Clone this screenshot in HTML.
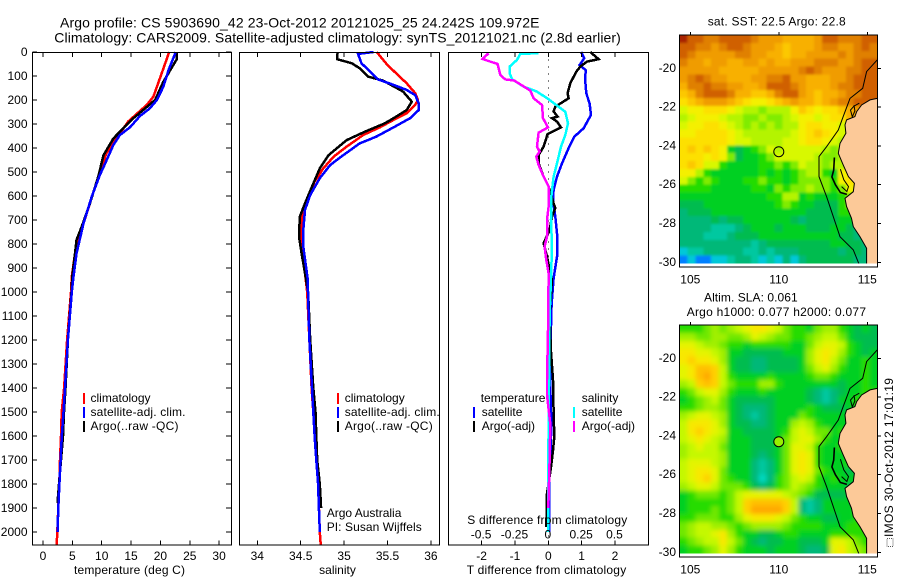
<!DOCTYPE html>
<html>
<head>
<meta charset="utf-8">
<title>Argo profile</title>
<style>
html,body{margin:0;padding:0;background:#fff;}
svg{display:block;font-family:"Liberation Sans",sans-serif;font-size:12px;fill:#000;}
.frame{fill:none;stroke:#000;stroke-width:1.4;shape-rendering:crispEdges;}
.tick{stroke:#000;stroke-width:1;shape-rendering:crispEdges;}
.prof{fill:none;stroke-width:2.5;shape-rendering:crispEdges;stroke-linejoin:miter;}
.sw{shape-rendering:crispEdges;}
</style>
</head>
<body>
<svg id="fig" xmlns="http://www.w3.org/2000/svg" width="900" height="580" viewBox="0 0 900 580">
  <defs>
    <clipPath id="clip-map1"><rect x="679.5" y="35" width="198" height="228.5"/></clipPath>
    <clipPath id="clip-map2"><rect x="679.5" y="325" width="198" height="228.5"/></clipPath>
    <filter id="smooth-sst" filterUnits="userSpaceOnUse" x="650" y="0" width="250" height="580"><feGaussianBlur stdDeviation="1.3"/></filter>
    <filter id="smooth-sla" filterUnits="userSpaceOnUse" x="650" y="0" width="250" height="580"><feGaussianBlur stdDeviation="2.3"/></filter>
  </defs>
  <text x="60" y="27.5" font-size="14" textLength="479.5" lengthAdjust="spacing">Argo profile: CS 5903690_42 23-Oct-2012 20121025_25 24.242S 109.972E</text>
  <text x="54.3" y="42.5" font-size="14" textLength="566.5" lengthAdjust="spacing">Climatology: CARS2009. Satellite-adjusted climatology: synTS_20121021.nc (2.8d earlier)</text>

  <g id="panelT"></g>
  <g id="panelS"></g>
  <g id="panelD"></g>
  <g id="map1"></g>
  <g id="map2"></g>

  <rect class="frame" x="32.5" y="52.5" width="199" height="492.5"/>
  <rect class="frame" x="239.5" y="52.5" width="200" height="492.5"/>
  <rect class="frame" x="448.5" y="52.5" width="200" height="492.5"/>

  <text x="74" y="574" textLength="111" lengthAdjust="spacing">temperature (deg C)</text>
  <text x="337.5" y="574" text-anchor="middle">salinity</text>
  <text x="466.7" y="574" textLength="159.5" lengthAdjust="spacing">T difference from climatology</text>
  <text x="467.3" y="524" textLength="160" lengthAdjust="spacing">S difference from climatology</text>

  <g>
    <rect class="sw" x="83" y="393" width="2" height="11" fill="#f00"/>
    <text x="90.5" y="402">climatology</text>
    <rect class="sw" x="83" y="407" width="2" height="11" fill="#00f"/>
    <text x="90.5" y="416" textLength="95" lengthAdjust="spacing">satellite-adj. clim.</text>
    <rect class="sw" x="83" y="421" width="2" height="11" fill="#000"/>
    <text x="90.5" y="430" textLength="88" lengthAdjust="spacing">Argo(..raw -QC)</text>
  </g>
  <g>
    <rect class="sw" x="337" y="393" width="2" height="11" fill="#f00"/>
    <text x="344.7" y="402">climatology</text>
    <rect class="sw" x="337" y="407" width="2" height="11" fill="#00f"/>
    <text x="344.7" y="416" textLength="95" lengthAdjust="spacing">satellite-adj. clim.</text>
    <rect class="sw" x="337" y="421" width="2" height="11" fill="#000"/>
    <text x="344.7" y="430" textLength="88" lengthAdjust="spacing">Argo(..raw -QC)</text>
    <text x="326.7" y="517">Argo Australia</text>
    <text x="326.7" y="531" textLength="95" lengthAdjust="spacing">PI: Susan Wijffels</text>
  </g>
  <g>
    <text x="480.7" y="402">temperature</text>
    <rect class="sw" x="473" y="407" width="2" height="11" fill="#00f"/>
    <text x="481.7" y="416">satellite</text>
    <rect class="sw" x="473" y="421" width="2" height="11" fill="#000"/>
    <text x="481.7" y="430">Argo(-adj)</text>
    <text x="581.7" y="402">salinity</text>
    <rect class="sw" x="573" y="407" width="2" height="11" fill="#0ff"/>
    <text x="581.7" y="416">satellite</text>
    <rect class="sw" x="573" y="421" width="2" height="11" fill="#f0f"/>
    <text x="581.7" y="430">Argo(-adj)</text>
  </g>

  <text x="707.7" y="25.5" textLength="138" lengthAdjust="spacing">sat. SST: 22.5 Argo: 22.8</text>
  <text x="704" y="301.5" textLength="93.7" lengthAdjust="spacing">Altim. SLA: 0.061</text>
  <text x="686.7" y="316" textLength="179.3" lengthAdjust="spacing">Argo h1000: 0.077 h2000: 0.077</text>
  <rect x="887" y="538.5" width="6" height="8" fill="none" stroke="#555" stroke-width="1" stroke-dasharray="1 1" shape-rendering="crispEdges"/>
  <text transform="translate(893,537) rotate(-90)" textLength="159" lengthAdjust="spacing">IMOS 30-Oct-2012 17:01:19</text>
</svg>
<script>
// ---------- temperature panel data ----------
const tTicks = [0,5,10,15,20,25,30];
const depthTicks = [0,100,200,300,400,500,600,700,800,900,1000,1100,1200,1300,1400,1500,1600,1700,1800,1900,2000];
const climTDepth = [0,90,186,220,290,340,422,520,630,714,840,936,1000,1200,1400,1500,1600,1700,1800,1900,2000,2052];
const climTVal = [21.5,20.2,18.8,17.7,14.5,13.1,10.8,9.4,8,6.9,5.45,4.9,4.77,4.1,3.6,3.18,3.07,2.9,2.78,2.6,2.44,2.33];
const satTDepth = [0,75,145,200,235,267,314,346,387,464,512,603,714,840,936,1000,1200,1400,1500,1600,1700,1800,1900,2000];
const satTVal = [22.6,21.4,20.5,19.4,18.2,16.5,14.8,13.1,12,10.6,9.7,8.3,6.9,5.7,5.2,4.9,4.25,3.75,3.5,3.2,3.0,2.8,2.6,2.47];
const argoTDepth = [0,30,124,200,235,276,318,360,430,520,630,728,783,840,936,1000,1200,1400,1500,1600,1700,1800,1880];
const argoTVal = [22.8,22.8,20.5,19.1,17.4,15.4,13.7,12,10.3,9.4,8,6.6,5.7,5.45,5,4.85,4.25,3.83,3.58,3.4,3.07,2.73,2.47];
// ---------- salinity panel data ----------
const sTicks = [34,34.5,35,35.5,36];
const climSDepth = [0,50,89,130,172,200,220,255,283,314,346,394,436,485,540,596,658,742,811,922,1000,1200,1400,1600,1800,2000,2052];
const climSVal = [35.376,35.49,35.6,35.72,35.82,35.85,35.82,35.72,35.57,35.41,35.22,35.03,34.88,34.76,34.66,34.59,34.53,34.5,34.51,34.55,34.575,34.6,34.625,34.665,34.7,34.72,34.73];
const satSDepth = [0,8,47,82,114,137,158,180,214,242,276,308,353,381,430,471,526,596,658,742,811,943,1000,1200,1400,1500,1600,1700,1800,1900,2000];
const satSVal = [35.34,35.16,35.2,35.3,35.39,35.57,35.72,35.82,35.86,35.86,35.76,35.6,35.37,35.18,34.99,34.84,34.72,34.61,34.55,34.53,34.53,34.58,34.584,34.6,34.63,34.645,34.66,34.68,34.7,34.71,34.72];
const argoSDepth = [0,30,47,68,103,119,165,207,242,269,297,332,367,430,485,561,631,686,769,839,922,1000,1200,1400,1500,1600,1700,1800,1900];
const argoSVal = [34.925,34.92,35.09,35.18,35.28,35.45,35.68,35.78,35.72,35.6,35.47,35.24,35.03,34.82,34.72,34.63,34.55,34.49,34.48,34.51,34.55,34.585,34.61,34.645,34.67,34.68,34.69,34.72,34.735];
// ---------- difference panel data ----------
const tDiffTicks = [-2,-1,0,1,2];
const tDiffLabels = ["-2","-1","0","1","2"];
const sDiffTicks = [-0.5,-0.25,0,0.25,0.5];
const sDiffLabels = ["-0.5","-0.25","0","0.25","0.5"];
const satTDiffDepth = [0,26,54,75,124,172,214,262,318,353,401,464,519,575,617,686,756,853,943,1050,1200,1400,1500,1600,1700,1800,2000];
const satTDiffVal = [0.98,1.08,0.94,1.12,1.11,1.14,1.24,1.28,1.06,0.78,0.61,0.41,0.26,0.16,0.14,0.21,0.26,0.26,0.16,0.1,0.07,0.06,0.08,0.08,0.06,0.02,0.02];
const argoTDiffDepth = [0,30,40,61,82,130,172,193,228,248,269,276,290,314,342,394,429,464,519,561,631,651,686,742,797,853,922,943,1100,1250,1367,1500,1603,1660,1730,1840,1980];
const argoTDiffVal = [1.26,1.51,1.16,0.96,0.84,0.66,0.58,0.61,0.21,0.16,0.28,0.11,0.26,0.38,-0.02,-0.14,-0.29,-0.29,-0.14,0.01,0.16,0.21,0.11,0.04,-0.14,-0.04,0.06,0.11,0.04,0.08,0.14,0.16,0.18,0.14,0.08,-0.04,-0.06];
const satSDiffDepth = [5,8,33,61,89,114,144,165,197,249,297,346,394,464,519,603,700,811,943,1100,1400,1700,2000];
const satSDiffVal = [-0.0725,-0.21,-0.235,-0.29,-0.29,-0.27,-0.185,-0.085,0.0025,0.1275,0.1475,0.1275,0.095,0.065,0.04,0.0225,0.02,0.0275,0.02,0.01,0.005,0,-0.0025];
const argoSDiffDepth = [5,29,40,50,96,114,119,161,193,221,276,314,336,394,415,436,471,519,561,644,700,769,811,867,922,1100,1367,1430,1550,1700,1900];
const argoSDiffVal = [-0.4475,-0.4925,-0.435,-0.38,-0.36,-0.3225,-0.255,-0.135,-0.11,-0.0475,-0.04,-0.0025,-0.0725,-0.085,-0.065,-0.09,-0.0725,-0.035,0.0025,0.0025,-0.01,-0.01,-0.0275,-0.015,0.0025,0,-0.01,-0.01,0.015,0.01,0];
// ---------- map data ----------
const lonTicks = [105,110,115];
const latTicks = [-20,-22,-24,-26,-28,-30];
const colourCodes = "ABCDEFGHIJKLMNOPQR";
const sstColours = ["#0080ff","#00c8d8","#00c8a0","#00b878","#00bc50","#00d020","#20dc00","#80ec00","#b4f400","#d8f800","#f4f000","#fde000","#fcc800","#f8b000","#f09c00","#e08000","#d06000","#a82000"];
const slaColours = ["#0080ff","#00d8c0","#00c8a0","#00b878","#00bc50","#00d020","#28dc00","#70e800","#a0f000","#c4f800","#e4f400","#f8e800","#ffd000","#ffc000","#ffa800","#d87800","#c85000","#a82000"];
const sstRows = [
"RQQPPQQQQPOOONNNNOQQPPPQQ",
"QQPPOPQQPOOONMNNNOPPOOPQP",
"QPOOOOOPPOONNMNNOOOOPOPPP",
"POONOONNOONONNOOOPPPOOPQQ",
"OOOOONNNNNOOOOOPQPOOOPPQQ",
"OPQPOONNNOOPPQOONNNOOPQQQ",
"NPPQPPOONNOQQQPONNNOPPQQQ",
"MNPQQQPNNMMNPQQONMNNOPPQQ",
"LMNOOONMLKKLMNONNMNOPPQQQ",
"JKKLLLKJIIHIIIKMLKLLMNOQQ",
"IJKKKJIIHHIHHIJKKJKLLNNNN",
"JKKLLKJIHIHIHIIKLLKKJIIII",
"KKLLLLKJIIIIIIJKLMLKJIIII",
"LLLLLLKJJIIIIJJKLLKJIJJJJ",
"LMLMLKFEFGHJIJJJJJIHIJKKK",
"LLLKLKHEFFGHJJJJJIHHIGHHH",
"LMLJJGFFFFGGHGHJIIHIIGHJI",
"KKIGFFFFFFGFGFGHIIGFKKKJJ",
"JHGHGFFFGGHGGFGHHHHGKLLKK",
"GGGGFFFFFGGFHGHHIHHGHKLLL",
"FFFFFFFFFFFGGIIFGFFFGHGEE",
"EEEFFFFFFFFFGHGFFEEEGHGDE",
"DEEEFFFFFFFFFFFFEEEEGGEDE",
"DDDDEDEEFFFFFFEDEEEEFFEDD",
"DDDDCCCDEFFFEFFFEEEFFEDDD",
"DDDCCCDEEEFFFFFFFFFFEEDDD",
"DDDDDDDDDCDEEEEEEEEFFEEDD",
"BCCDDDDDCCDCDDDEEEEEDEEDD",
"ABAABBCDDCBCBDBDEEEEEEDDD"];
const slaRows = [
"GGGHIHIJKLLKJHGGFHIIGFEFE",
"IIHHIIHHIKJIHHGGHIJJHFEEE",
"KKJIIHGGFGGGGGFFHJKKJGFEE",
"LLKKJIFFEEEEEFFFIKLKIGFEF",
"LMLLKIFEEDDEEEEFIKLJHFFGF",
"KLNNMJFEEDDEEEEFHJKIGFFGF",
"KLNOMJGFFFFGFFFFGHHGFFFGF",
"IJMNMJHGGGIIGFFFFFFFEFFGF",
"GHJKKIGFFFGFFFFFEDCDEFFGG",
"FGHIJHFEEEEEFFFFEDCDFFGGG",
"GGHIIHFEDDDEFFFFGFEEEFGGG",
"IJKKJIFEDCDEFFFHGFFFFFGGG",
"JLLLKIFEEDDEFFIJIGFFFFGGG",
"JLMLKJFFEEEEFGJKJHHFGFGGG",
"JKLKJIFFFEEEFHJKKIGFFGGGG",
"IJKJJHFFFEEEFHKKJGFFGFFFF",
"IJJJJIFFFEDEFHKLKGFFFGFFF",
"JKKKJIFFFDCDFHKLKGFFFGGGG",
"JKLLKHFFFDCDFHKLKHGFFEFGG",
"JKLMKHGFFDBDGHJKJGFGFFFGG",
"IJKKJHHHGEDEGHJIHGFFFEFGG",
"FGHHHGHJKKKKKJIHGEEEEFFGG",
"FGGGGGHJMNNNNMJDCDFFFFGGG",
"FGGGHGHJMOOOOMJDCDFFFFGGG",
"GGHHHGGIKLLLKJHGFFEEFFGGG",
"HIJJIIHGHIIIIHGGGGFFFGGGG",
"HIJJKLIGFFEEFGGFFFFGGGGGG",
"GHIJJLJHFEDEEFFEEEFKKJHGG",
"FGGHIKIGFFFEFFFEDDEKLJIHG"];
const landLon = [116,115.56,115.15,114.68,114.40,114.30,113.83,113.74,113.79,113.46,113.36,113.64,113.93,114.27,114.21,113.74,113.83,114.11,114.21,114.59,114.96,114.96,114.96,116];
const landLat = [-21.45,-21.55,-21.63,-21.89,-22.23,-22.49,-22.66,-22.92,-23.35,-23.87,-24.38,-24.98,-25.58,-25.93,-26.36,-26.70,-27.13,-27.73,-28.16,-28.68,-29.28,-30.09,-31,-31];
const shelfLon = [115.56,114.96,114.74,114.02,113.64,113.36,112.70,112.27,112.27,112.70,113.08,113.46,114.21,114.59];
const shelfLat = [-19.57,-20.17,-21.03,-21.55,-22.49,-23.18,-24.04,-24.55,-25.58,-26.62,-27.65,-28.68,-29.36,-30.22];
const islandLon = [113.14,113.10,113.0,113.2,113.48,113.85];
const islandLat = [-24.6,-25.25,-25.6,-26.0,-26.4,-26.5];
const bayLon = [113.48,113.67,113.94,113.85,113.55];
const bayLat = [-25.2,-25.75,-26.1,-26.35,-26.1];
const capeLon = [114.25,114.3,114.15,114.05,114.25,114.55];
const capeLat = [-21.9,-22.2,-22.5,-22.15,-21.95,-21.8];
const floatLon = 110;
const floatLat = -24.3;

// ---------- axis functions ----------
const yD = d => 52 + 0.24 * d;
const xT = v => 43 + 5.87 * v;
const xS = v => 257.3 + 86.8 * (v - 34);
const xTd = v => 548.3 + 33.33 * v;
const xSd = v => 548.3 + 133.3 * v;
const mapX = lon => 690.3 + 17.7 * (lon - 105);
const mapY = (lat, off) => 68.3 + off + 19.4 * (-20 - lat);
const NS = "http://www.w3.org/2000/svg";

function mk(parent, tag, attrs) {
  const e = document.createElementNS(NS, tag);
  for (const k in attrs) e.setAttribute(k, attrs[k]);
  parent.appendChild(e);
  return e;
}
function profile(parent, xf, depths, vals, colour) {
  const pts = depths.map((d, i) => xf(vals[i]).toFixed(1) + "," + yD(d).toFixed(1)).join(" ");
  return mk(parent, "polyline", {points: pts, class: "prof", stroke: colour});
}
function tickLine(parent, x1, y1, x2, y2) {
  const t = mk(parent, "line", {x1: x1, y1: y1, x2: x2, y2: y2, class: "tick"});
  
  
  return t;
}
function label(parent, x, y, anchor, str) {
  const t = mk(parent, "text", {x: x, y: y, "text-anchor": anchor});
  t.textContent = str;
  
  
  return t;
}

// ---------- temperature panel ----------
const pT = document.getElementById("panelT");
const lineClimT = profile(pT, xT, climTDepth, climTVal, "#f00");


const lineArgoT = profile(pT, xT, argoTDepth, argoTVal, "#000");


const lineSatT = profile(pT, xT, satTDepth, satTVal, "#00f");


tTicks.forEach(v => {
  tickLine(pT, xT(v), 52.5, xT(v), 57);
  tickLine(pT, xT(v), 545, xT(v), 540.5);
  label(pT, xT(v), 560, "middle", String(v));
});
depthTicks.forEach(d => {
  tickLine(pT, 32.5, yD(d), 37, yD(d));
  tickLine(pT, 231.5, yD(d), 226, yD(d));
  label(pT, 27.5, yD(d) + 4, "end", String(d));
});

// ---------- salinity panel ----------
const pS = document.getElementById("panelS");
const lineClimS = profile(pS, xS, climSDepth, climSVal, "#f00");


const lineArgoS = profile(pS, xS, argoSDepth, argoSVal, "#000");


const lineSatS = profile(pS, xS, satSDepth, satSVal, "#00f");


sTicks.forEach(v => {
  tickLine(pS, xS(v), 52.5, xS(v), 57);
  tickLine(pS, xS(v), 545, xS(v), 540.5);
  label(pS, xS(v), 560, "middle", String(v));
});

// ---------- difference panel ----------
const pD = document.getElementById("panelD");
const zeroLine = mk(pD, "line", {x1: xTd(0), y1: 52.5, x2: xTd(0), y2: 545, stroke: "#000", "stroke-width": 1, "stroke-dasharray": "1 6", "shape-rendering": "crispEdges"});


const lineSatTd = profile(pD, xTd, satTDiffDepth, satTDiffVal, "#00f");


const lineArgoTd = profile(pD, xTd, argoTDiffDepth, argoTDiffVal, "#000");


const lineSatSd = profile(pD, xSd, satSDiffDepth, satSDiffVal, "#0ff");


const lineArgoSd = profile(pD, xSd, argoSDiffDepth, argoSDiffVal, "#f0f");


tDiffTicks.forEach((v, i) => {
  tickLine(pD, xTd(v), 52.5, xTd(v), 57);
  tickLine(pD, xTd(v), 545, xTd(v), 540.5);
  label(pD, xTd(v), 560, "middle", tDiffLabels[i]);
});
sDiffTicks.forEach((v, i) => {
  label(pD, xSd(v) - 0.5, 538.5, "middle", sDiffLabels[i]);
});

// ---------- maps ----------
function pathFrom(lons, lats, off, close) {
  return "M" + lons.map((ln, i) => mapX(ln).toFixed(1) + " " + mapY(lats[i], off).toFixed(1)).join("L") + (close ? "Z" : "");
}
function drawMap(g, rows, colours, off, clipId, filterId, markerFill) {
  const x0 = 679.5, w = 198, h = 228.5, y0 = 35 + off, pad = 14;
  const nCols = rows[0].length, nRows = rows.length;
  const cw = w / nCols, ch = h / nRows;
  const clipG = mk(g, "g", {"clip-path": "url(#" + clipId + ")"});
  const cellG = mk(clipG, "g", {filter: "url(#" + filterId + ")"});
  
  
  rows.forEach((row, r) => {
    for (let c = 0; c < row.length; c++) {
      // edge cells are extended past the clip so smoothing doesn't fade at the border
      const left = x0 + c * cw - (c === 0 ? pad : 0);
      const right = x0 + (c + 1) * cw + (c === nCols - 1 ? pad : 0.6);
      const top = y0 + r * ch - (r === 0 ? pad : 0);
      const bottom = y0 + (r + 1) * ch + (r === nRows - 1 ? pad : 0.6);
      const cell = mk(cellG, "rect", {
        x: left.toFixed(2), y: top.toFixed(2),
        width: (right - left).toFixed(2), height: (bottom - top).toFixed(2),
        fill: colours[colourCodes.indexOf(row[c])], "shape-rendering": "crispEdges"
      });
      
      
    }
  });
  const land = mk(clipG, "path", {d: pathFrom(landLon, landLat, off, true), fill: "#fcc998", stroke: "#000", "stroke-width": 1});
  
  
  const shelf = mk(clipG, "path", {d: pathFrom(shelfLon, shelfLat, off, false), fill: "none", stroke: "#000", "stroke-width": 1});
  
  
  const island = mk(clipG, "path", {d: pathFrom(islandLon, islandLat, off, false), fill: "none", stroke: "#000", "stroke-width": 1.6});
  
  
  const bay = mk(clipG, "path", {d: pathFrom(bayLon, bayLat, off, false), fill: "none", stroke: "#000", "stroke-width": 1});
  
  
  const cape = mk(clipG, "path", {d: pathFrom(capeLon, capeLat, off, false), fill: "none", stroke: "#000", "stroke-width": 1});
  
  
  const marker = mk(g, "circle", {cx: mapX(floatLon), cy: mapY(floatLat, off), r: 5, fill: markerFill, stroke: "#000", "stroke-width": 1});
  
  
  const frame = mk(g, "path", {d: "M679.5 " + y0 + "V" + (y0 + 232) + "H877.5V" + y0 + "Z", fill: "none", stroke: "#000", "stroke-width": 1.2, "shape-rendering": "crispEdges"});
  
  
  lonTicks.forEach(v => {
    tickLine(g, mapX(v), y0, mapX(v), y0 - 3);
    label(g, mapX(v), y0 + 248.5, "middle", String(v));
  });
  latTicks.forEach(v => {
    tickLine(g, 877.5, mapY(v, off), 881, mapY(v, off));
    label(g, 676, mapY(v, off) + 3.5, "end", String(v));
  });
}
drawMap(document.getElementById("map1"), sstRows, sstColours, 0, "clip-map1", "smooth-sst", "none");
drawMap(document.getElementById("map2"), slaRows, slaColours, 290, "clip-map2", "smooth-sla", "#98f000");
</script>
</body>
</html>
